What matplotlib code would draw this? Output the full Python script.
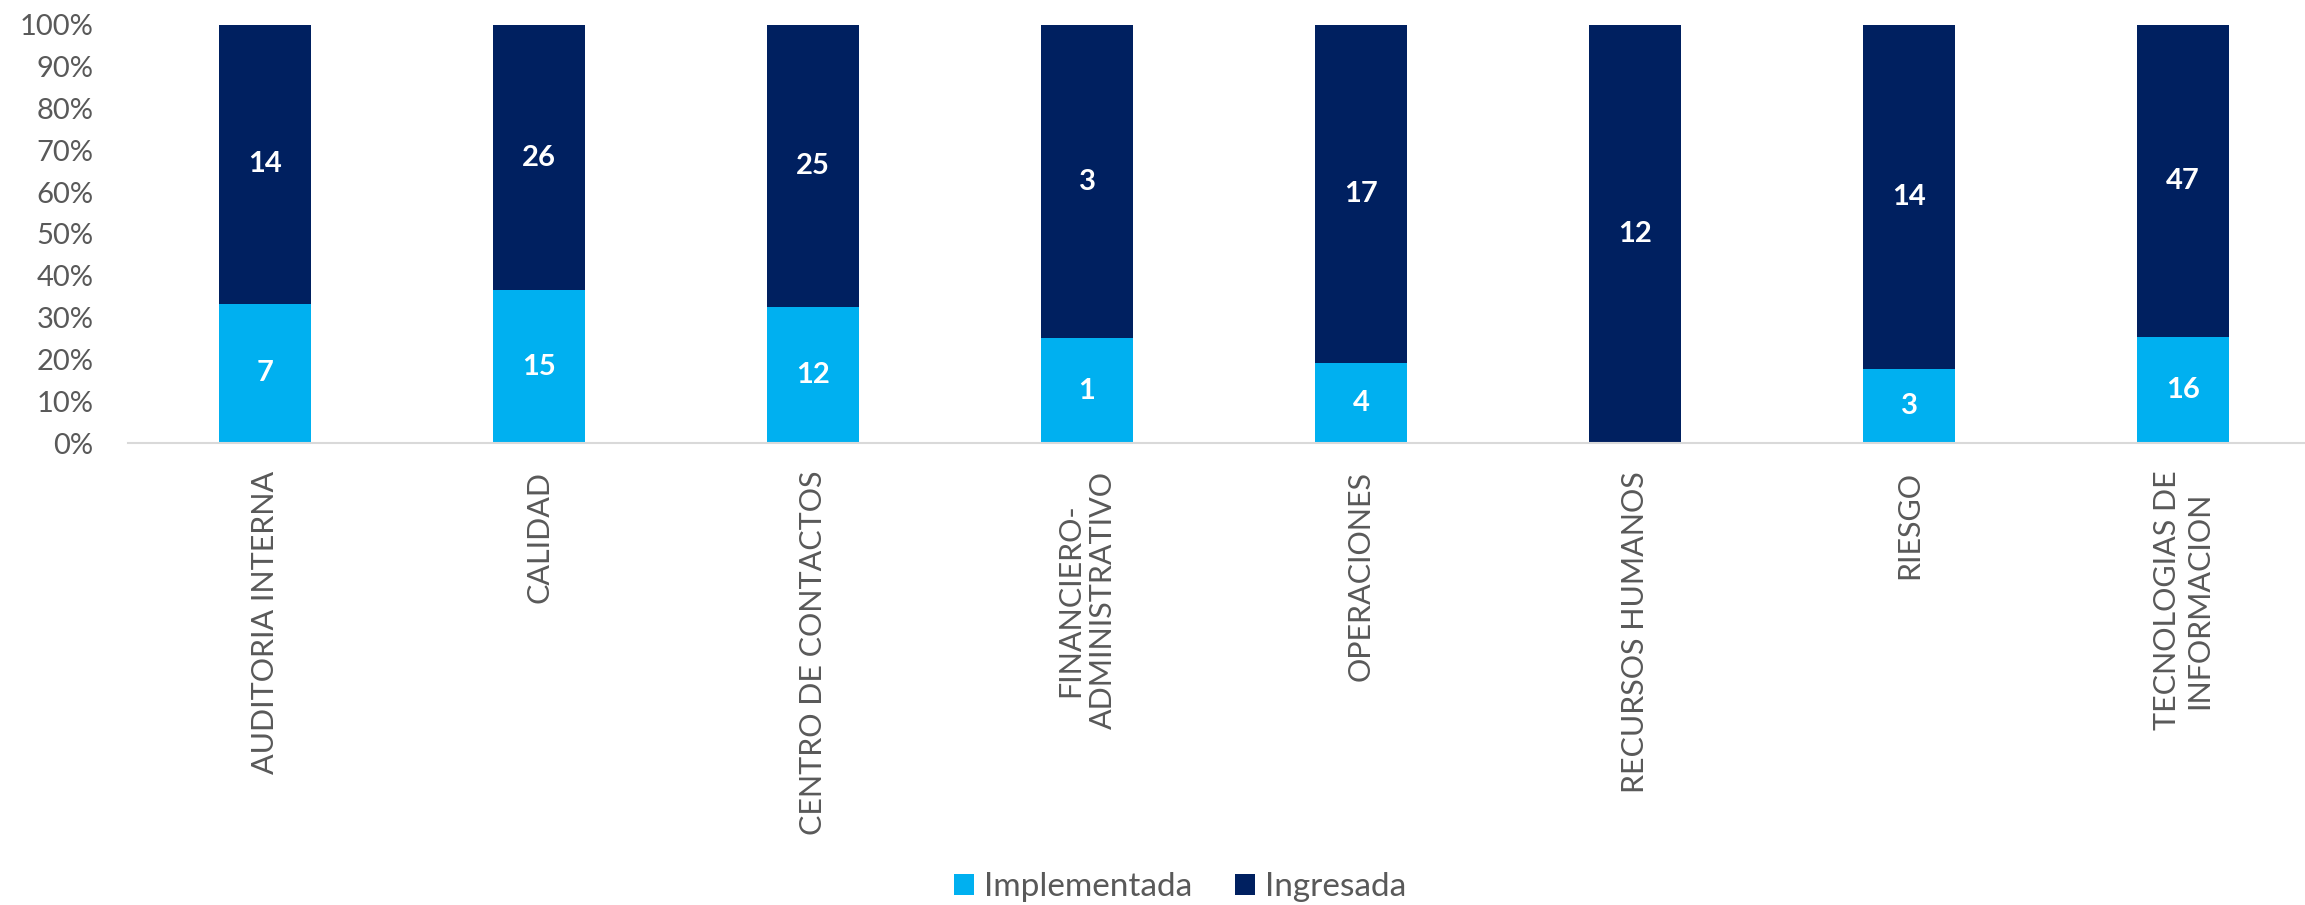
import numpy as np
import matplotlib.pyplot as plt
from matplotlib.ticker import PercentFormatter

# datos
areas = ['AUDITORIA INTERNA', 'CALIDAD', 'CENTRO DE CONTACTOS',
         'FINANCIERO-\nADMINISTRATIVO', 'OPERACIONES', 'RECURSOS HUMANOS',
         'RIESGO', 'TECNOLOGIAS DE\nINFORMACION']
implementada = np.array([7, 15, 12, 1, 4, 0, 3, 16])
ingresada = np.array([14, 26, 25, 3, 17, 12, 14, 47])

c_impl = '#00B0F0'
c_ing = '#002060'
gris = '#595959'

plt.rcParams['font.family'] = ['Lato', 'DejaVu Sans']

total = implementada + ingresada
p_impl = implementada / total * 100
p_ing = ingresada / total * 100

fig = plt.figure(figsize=(23.05, 9.05), dpi=100)
ax = fig.add_axes([128 / 2305, 1 - 443 / 905, 1 - 128 / 2305, (443 - 25) / 905])

x = np.arange(len(areas))
w = 0.336
b1 = ax.bar(x, p_impl, w, color=c_impl, label='Implementada')
b2 = ax.bar(x, p_ing, w, bottom=p_impl, color=c_ing, label='Ingresada')

# etiquetas dentro de las barras
for i in range(len(areas)):
    if implementada[i] > 0:
        ax.text(x[i], p_impl[i] / 2, str(implementada[i]), ha='center', va='center',
                color='white', fontsize=21, fontweight='bold')
    if ingresada[i] > 0:
        ax.text(x[i], p_impl[i] + p_ing[i] / 2, str(ingresada[i]), ha='center', va='center',
                color='white', fontsize=21, fontweight='bold')

ax.set_xlim(-0.5, 7 + (2305 - 2183) / 274)
ax.set_ylim(0, 100)
ax.set_yticks(np.arange(0, 101, 10))
ax.yaxis.set_major_formatter(PercentFormatter(decimals=0))
ax.set_xticks(x)
ax.set_xticklabels(areas, rotation=90, multialignment='center')

ax.tick_params(axis='y', length=0, pad=25, labelsize=21, labelcolor=gris)
ax.tick_params(axis='x', length=0, pad=20, labelsize=22, labelcolor=gris)

for s in ['top', 'right', 'left']:
    ax.spines[s].set_visible(False)
ax.spines['bottom'].set_color('#D9D9D9')
ax.spines['bottom'].set_linewidth(1.5)

fig.legend(handles=[b1, b2], loc='center', bbox_to_anchor=(0.512, 0.02), ncol=2,
           frameon=False, fontsize=24, labelcolor=gris, handlelength=0.6,
           handleheight=0.6, handletextpad=0.3, columnspacing=1.3)

fig.savefig('out.png', dpi=100)
